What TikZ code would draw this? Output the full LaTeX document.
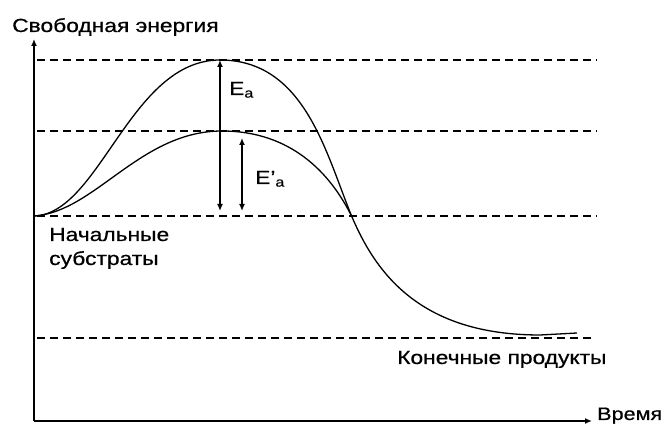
\documentclass[tikz,border=0pt]{standalone}
\usepackage{fontspec}
\setmainfont[FakeStretch=1.2,FakeBold=0.6]{Liberation Sans}
\usetikzlibrary{arrows.meta}
\begin{document}
\begin{tikzpicture}[x=1pt,y=-1pt,
  axis/.style={line width=1.5pt,-{Latex[length=7pt,width=6pt]}},
  dashline/.style={dash pattern=on 8pt off 5pt,line width=1.2pt},
  curve/.style={line width=1.3pt},
  earrow/.style={line width=1.3pt,{Latex[length=7pt,width=6pt]}-{Latex[length=7pt,width=6pt]}},
  lbl/.style={font=\fontsize{19}{24}\selectfont,inner sep=0pt}]
\useasboundingbox (0,0) rectangle (665,427);
% axes
\coordinate (O) at (34,421);
\coordinate (Ytip) at (34,39);
\coordinate (Xtip) at (592,421);
\draw[axis] (O) -- (Ytip);
\draw[axis] (O) -- (Xtip);
\node[lbl,anchor=base west] (ylab) at (12,32) {Свободная энергия};
\node[lbl,anchor=base west,font=\fontsize{18}{22}\selectfont] (xlab) at (597,420) {Время};
% dashed levels
\coordinate (d1a) at (37,60); \coordinate (d1b) at (597,60);
\coordinate (d2a) at (37,131); \coordinate (d2b) at (597,131);
\coordinate (d3a) at (37,216); \coordinate (d3b) at (597,216);
\coordinate (d4a) at (37,338); \coordinate (d4b) at (592,338);
\draw[dashline] (d1a) -- (d1b);
\draw[dashline] (d2a) -- (d2b);
\draw[dashline] (d3a) -- (d3b);
\draw[dashline] (d4a) -- (d4b);
% curves
\coordinate (S) at (34,216);
\coordinate (P1) at (220,60);
\coordinate (P2) at (222,131);
\coordinate (X) at (352,217);
\coordinate (M) at (540,335);
\coordinate (E) at (577,333);
\draw[curve] (S) .. controls (100,214) and (130,60) .. (P1)
  .. controls (305,60) and (326,154) .. (X)
  .. controls (376,273) and (420,335) .. (M) -- (E);
\draw[curve] (S) .. controls (95,212) and (140,131) .. (P2)
  .. controls (290,131) and (330,172) .. (X);
% energy arrows
\coordinate (a1) at (220,60); \coordinate (a2) at (220,211);
\coordinate (b1) at (242,138); \coordinate (b2) at (242,211);
\draw[earrow] (a1) -- (a2);
\draw[earrow] (b1) -- (b2);
\node[lbl,anchor=base west] (Ea) at (229,95) {E\textsubscript{a}};
\node[lbl,anchor=base west] (Eb) at (255,184) {E'\textsubscript{a}};
% labels
\node[lbl,anchor=base west] (start1) at (49,241) {Начальные};
\node[lbl,anchor=base west] (start2) at (49,265) {субстраты};
\node[lbl,anchor=base west] (end) at (397,364) {Конечные продукты};
\end{tikzpicture}
\end{document}
